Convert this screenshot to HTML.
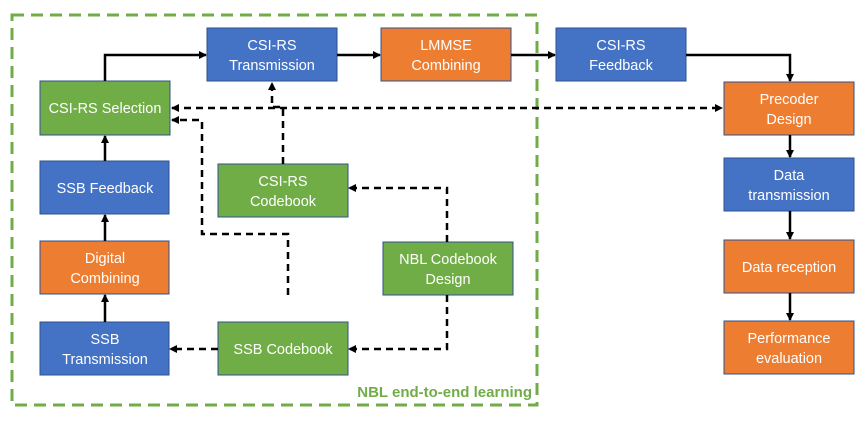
<!DOCTYPE html>
<html><head><meta charset="utf-8"><style>
body{margin:0;background:#fff}
text{font-family:"Liberation Sans",sans-serif;font-size:14.5px;fill:#fff;text-anchor:middle}
</style></head><body>
<svg width="865" height="421" viewBox="0 0 865 421" xmlns="http://www.w3.org/2000/svg">
<defs>
<marker id="a" markerWidth="8" markerHeight="8" refX="7" refY="4" orient="auto" markerUnits="userSpaceOnUse"><path d="M0,0 L8,4 L0,8 z" fill="#000"/></marker>
<marker id="s" markerWidth="8" markerHeight="8" refX="1" refY="4" orient="auto" markerUnits="userSpaceOnUse"><path d="M8,0 L0,4 L8,8 z" fill="#000"/></marker>
</defs>
<rect x="12" y="15" width="525" height="390" fill="none" stroke="#70AD47" stroke-width="3" stroke-dasharray="12,7"/>
<g stroke-width="1" stroke="#2F528F">
<rect x="207" y="28" width="130" height="53" fill="#4472C4"/>
<rect x="381" y="28" width="130" height="53" fill="#ED7D31"/>
<rect x="556" y="28" width="130" height="53" fill="#4472C4"/>
<rect x="724" y="82" width="130" height="53" fill="#ED7D31"/>
<rect x="724" y="158" width="130" height="53" fill="#4472C4"/>
<rect x="724" y="240" width="130" height="53" fill="#ED7D31"/>
<rect x="724" y="321" width="130" height="53" fill="#ED7D31"/>
<rect x="40" y="81" width="130" height="54" fill="#70AD47"/>
<rect x="40" y="161" width="129" height="53" fill="#4472C4"/>
<rect x="40" y="241" width="129" height="53" fill="#ED7D31"/>
<rect x="40" y="322" width="129" height="53" fill="#4472C4"/>
<rect x="218" y="164" width="130" height="53" fill="#70AD47"/>
<rect x="383" y="242" width="130" height="53" fill="#70AD47"/>
<rect x="218" y="322" width="130" height="53" fill="#70AD47"/>
</g>
<text x="272" y="50">CSI-RS</text><text x="272" y="70">Transmission</text>
<text x="446" y="50">LMMSE</text><text x="446" y="70">Combining</text>
<text x="621" y="50">CSI-RS</text><text x="621" y="70">Feedback</text>
<text x="789" y="104">Precoder</text><text x="789" y="124">Design</text>
<text x="789" y="180">Data</text><text x="789" y="200">transmission</text>
<text x="789" y="272">Data reception</text>
<text x="789" y="343">Performance</text><text x="789" y="363">evaluation</text>
<text x="105" y="113">CSI-RS Selection</text>
<text x="105" y="193">SSB Feedback</text>
<text x="105" y="263">Digital</text><text x="105" y="283">Combining</text>
<text x="105" y="344">SSB</text><text x="105" y="364">Transmission</text>
<text x="283" y="186">CSI-RS</text><text x="283" y="206">Codebook</text>
<text x="448" y="264">NBL Codebook</text><text x="448" y="284">Design</text>
<text x="283" y="354">SSB Codebook</text>
<text x="532" y="397" style="fill:#70AD47;font-weight:bold;text-anchor:end;font-size:15px">NBL end-to-end learning</text>
<g fill="none" stroke="#000" stroke-width="2.5">
<path d="M105,81 V55 H206" marker-end="url(#a)"/>
<path d="M337,55 H380" marker-end="url(#a)"/>
<path d="M511,55 H555" marker-end="url(#a)"/>
<path d="M686,55 H790 V81" marker-end="url(#a)"/>
<path d="M105,161 V136" marker-end="url(#a)"/>
<path d="M105,241 V215" marker-end="url(#a)"/>
<path d="M105,322 V295" marker-end="url(#a)"/>
<path d="M790,135 V157" marker-end="url(#a)"/>
<path d="M790,211 V239" marker-end="url(#a)"/>
<path d="M790,293 V320" marker-end="url(#a)"/>
</g>
<g fill="none" stroke="#000" stroke-width="2.5" stroke-dasharray="7,5">
<path d="M172,108 H722" marker-start="url(#s)" marker-end="url(#a)"/>
<path d="M283,164 V107 H272 V83" marker-end="url(#a)"/>
<path d="M288,295 V234 H202 V120 H172" marker-end="url(#a)"/>
<path d="M447,242 V188 H349" marker-end="url(#a)"/>
<path d="M447,295 V349 H349" marker-end="url(#a)"/>
<path d="M218,349 H170" marker-end="url(#a)"/>
</g>
</svg>
</body></html>
